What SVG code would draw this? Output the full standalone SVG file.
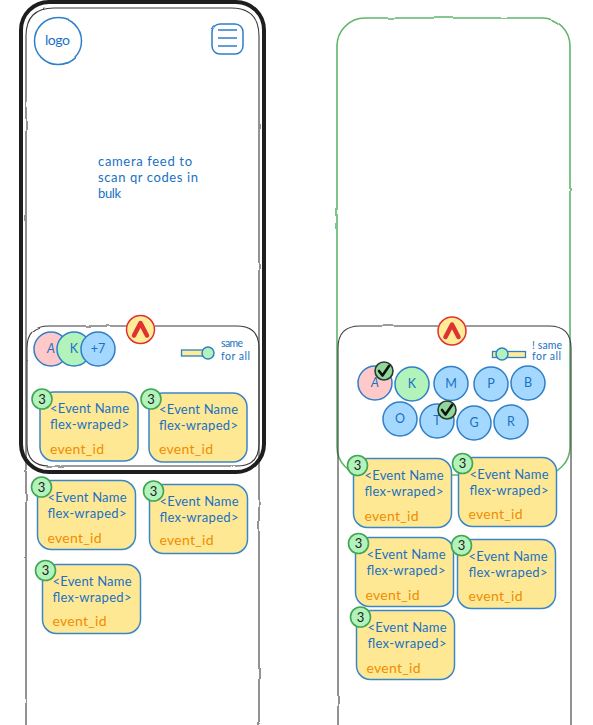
<svg xmlns="http://www.w3.org/2000/svg" width="593" height="725" viewBox="0 0 593 725">
<defs>
<filter id="w" filterUnits="userSpaceOnUse" x="0" y="0" width="593" height="725"><feTurbulence type="fractalNoise" baseFrequency="0.035" numOctaves="2" seed="4"/><feDisplacementMap in="SourceGraphic" scale="2.2" xChannelSelector="R" yChannelSelector="G"/></filter>
<symbol id="chev" overflow="visible"><circle cx="0" cy="0" r="14" class="chevc"/><path d="M-6.500 6L0-6.500 6.500 6" class="chevp"/></symbol>
</defs>
<style>
text{font-family:"Lato","Noto Sans",sans-serif;font-size:13px;fill:#1971c2}
.g{fill:none;stroke:#3a3a3a;stroke-width:1.1}
.bl{fill:none;stroke:#1e1e1e;stroke-width:4}
.gr{fill:none;stroke:#5fb56c;stroke-width:1.6}
.card{fill:#ffe894;stroke:#3a86c8;stroke-width:1.5}
.bd{fill:#b2f2bb;stroke:#40a654;stroke-width:1.6}
.n{fill:#1e1e1e;text-anchor:middle;font-size:13px}
.id{fill:#f08c00;font-size:14px}
.chevc{fill:#ffec99;stroke:#e03131;stroke-width:1.5}
.chevp{fill:none;stroke:#e03131;stroke-width:4.500;stroke-linecap:round;stroke-linejoin:round}
.p{fill:#ffc9c9}.k{fill:#b2f2bb}.u{fill:#a5d8ff}
.c{stroke:#2f7fc9;stroke-width:1.5}
.ct{text-anchor:middle;font-size:12.5px}
.it{font-style:italic}
.s{font-size:10.5px}
.bar{fill:#ffec99;stroke:#2f7fc9;stroke-width:1.3}
.kn{fill:#b2f2bb;stroke:#2f7fc9;stroke-width:1.5}
.bf{fill:none;stroke:#2f7fc9;stroke-width:1.5}
.chk{fill:#8fd79c;stroke:#2b3a2e;stroke-width:1.6}
.tick{fill:none;stroke:#111;stroke-width:2.6;stroke-linecap:round;stroke-linejoin:round}
</style>

<g id="connectors"/>

<g id="left-screen" filter="url(#w)">
<path class="g" d="M26 725V36Q26 8 54 8H231Q259 8 259 36V725"/>
<path class="g" d="M127 326H49Q27 326 27 348V444Q27 466 49 466H237Q259 466 259 444V348Q259 326 237 326H155"/>
</g>
<g id="right-screen" filter="url(#w)">
<rect class="gr" x="337" y="18" width="233" height="457" rx="28"/>
<path class="g" d="M338 725V348Q338 326 360 326H438M466 326H549Q571 326 571 348V725"/>
</g>

<g id="logo"><circle class="bf" cx="58" cy="41" r="23.5" filter="url(#w)"/><text x="45" y="45" style="font-size:14px" textLength="25">logo</text></g>
<g id="menu" filter="url(#w)"><rect class="bf" x="212" y="24" width="31" height="30" rx="8"/><path class="bf" d="M218 30H237M218 38H237M218 46H237"/></g>
<g id="camera-text"><text x="98" y="165.500" textLength="94">camera feed to</text><text x="98" y="181.500" textLength="100">scan qr codes in</text><text x="98" y="197.500" textLength="23">bulk</text></g>

<g id="chevron-left"><use href="#chev" x="140.500" y="329.500"/></g>
<g id="chevron-right"><use href="#chev" x="452" y="331"/></g>

<g id="avatars-left">
<circle class="c p" cx="51" cy="349" r="17"/><text class="ct it" x="51" y="353">A</text>
<circle class="c k" cx="74" cy="349" r="17"/><text class="ct" x="74" y="353">K</text>
<circle class="c u" cx="98" cy="349" r="17"/><text class="ct" x="98" y="353">+7</text>
</g>
<g id="toggle-left"><rect class="bar" x="181.500" y="350" width="24" height="6"/><circle class="kn" cx="208" cy="353" r="6"/><text class="s" x="221" y="347" textLength="22">same</text><text class="s" x="221" y="359.500" textLength="29">for all</text></g>
<g id="toggle-right"><rect class="bar" x="492.500" y="351.500" width="33" height="6"/><circle class="kn" cx="502" cy="354" r="6"/><text class="s" x="532" y="348.500" textLength="30">! same</text><text class="s" x="532" y="360" textLength="29">for all</text></g>

<g id="avatars-right">
<circle class="c p" cx="375" cy="383" r="17"/><text class="ct it" x="375" y="387">A</text>
<circle class="c k" cx="412" cy="384" r="17"/><text class="ct" x="412" y="388">K</text>
<circle class="c u" cx="451" cy="383.500" r="17"/><text class="ct" x="451" y="387.500">M</text>
<circle class="c u" cx="491" cy="384" r="17"/><text class="ct" x="491" y="388">P</text>
<circle class="c u" cx="528" cy="383" r="17"/><text class="ct" x="528" y="387">B</text>
<circle class="c u" cx="400" cy="419" r="17"/><text class="ct" x="400" y="423">O</text>
<circle class="c u" cx="437" cy="421" r="17"/><text class="ct" x="437" y="425">T</text>
<circle class="c u" cx="474" cy="423" r="17"/><text class="ct" x="474" y="427">G</text>
<circle class="c u" cx="511" cy="422" r="17"/><text class="ct" x="511" y="426">R</text>
<g id="check-a"><circle class="chk" cx="384" cy="371" r="9"/><path class="tick" d="M379 371L382.500 375.500 389 366"/></g>
<g id="check-t"><circle class="chk" cx="447" cy="410" r="9"/><path class="tick" d="M442 410L445.500 414.500 452 405"/></g>
</g>

<g id="card-l1" transform="translate(40 392)"><rect class="card" width="98" height="69" rx="14"/><circle class="bd" cx="2" cy="7" r="10"/><text class="n" x="2" y="11.500">3</text><text x="10" y="21" textLength="79">&lt;Event Name</text><text x="10" y="37" textLength="79">flex-wraped&gt;</text><text class="id" x="10" y="62" textLength="54">event_id</text></g>
<g id="card-l2" transform="translate(149 393)"><rect class="card" width="98" height="69" rx="14"/><circle class="bd" cx="2" cy="6" r="10"/><text class="n" x="2" y="10.500">3</text><text x="10" y="21" textLength="79">&lt;Event Name</text><text x="10" y="37" textLength="79">flex-wraped&gt;</text><text class="id" x="10" y="61" textLength="54">event_id</text></g>
<g id="card-l3" transform="translate(37.500 480.500)"><rect class="card" width="98" height="69" rx="14"/><circle class="bd" cx="4" cy="6.500" r="10"/><text class="n" x="4" y="11">3</text><text x="10" y="21" textLength="79">&lt;Event Name</text><text x="10" y="37" textLength="79">flex-wraped&gt;</text><text class="id" x="10" y="62" textLength="54">event_id</text></g>
<g id="card-l4" transform="translate(149.500 484.500)"><rect class="card" width="98" height="69" rx="14"/><circle class="bd" cx="4" cy="6.500" r="10"/><text class="n" x="4" y="11">3</text><text x="10" y="21" textLength="79">&lt;Event Name</text><text x="10" y="37" textLength="79">flex-wraped&gt;</text><text class="id" x="10" y="60" textLength="54">event_id</text></g>
<g id="card-l5" transform="translate(42.500 564.500)"><rect class="card" width="98" height="69" rx="14"/><circle class="bd" cx="3" cy="6" r="10"/><text class="n" x="3" y="10.500">3</text><text x="10" y="21" textLength="79">&lt;Event Name</text><text x="10" y="37" textLength="79">flex-wraped&gt;</text><text class="id" x="10" y="61" textLength="54">event_id</text></g>

<g id="left-frame"><rect class="bl" x="21" y="2" width="243" height="470" rx="28"/></g>

<g id="card-r1" transform="translate(353.500 458.500)"><rect class="card" width="98" height="69" rx="14"/><circle class="bd" cx="4" cy="7" r="10"/><text class="n" x="4" y="11.500">3</text><text x="11" y="21" textLength="79">&lt;Event Name</text><text x="11" y="37" textLength="79">flex-wraped&gt;</text><text class="id" x="11" y="62" textLength="54">event_id</text></g>
<g id="card-r2" transform="translate(458.500 457.500)"><rect class="card" width="98" height="69" rx="14"/><circle class="bd" cx="4" cy="6" r="10"/><text class="n" x="4" y="10.500">3</text><text x="11" y="21" textLength="79">&lt;Event Name</text><text x="11" y="37" textLength="79">flex-wraped&gt;</text><text class="id" x="10" y="61" textLength="54">event_id</text></g>
<g id="card-r3" transform="translate(355.500 537.500)"><rect class="card" width="98" height="69" rx="14"/><circle class="bd" cx="3" cy="6" r="10"/><text class="n" x="3" y="10.500">3</text><text x="11" y="21" textLength="79">&lt;Event Name</text><text x="11" y="37" textLength="79">flex-wraped&gt;</text><text class="id" x="10" y="62" textLength="54">event_id</text></g>
<g id="card-r4" transform="translate(457.500 539.500)"><rect class="card" width="98" height="69" rx="14"/><circle class="bd" cx="4" cy="6" r="10"/><text class="n" x="4" y="10.500">3</text><text x="11" y="21" textLength="79">&lt;Event Name</text><text x="11" y="37" textLength="79">flex-wraped&gt;</text><text class="id" x="11" y="61" textLength="54">event_id</text></g>
<g id="card-r5" transform="translate(356.500 610.500)"><rect class="card" width="98" height="69" rx="14"/><circle class="bd" cx="4" cy="6.500" r="10"/><text class="n" x="4" y="11">3</text><text x="11" y="21" textLength="79">&lt;Event Name</text><text x="11" y="37" textLength="79">flex-wraped&gt;</text><text class="id" x="10" y="62" textLength="54">event_id</text></g>
</svg>
